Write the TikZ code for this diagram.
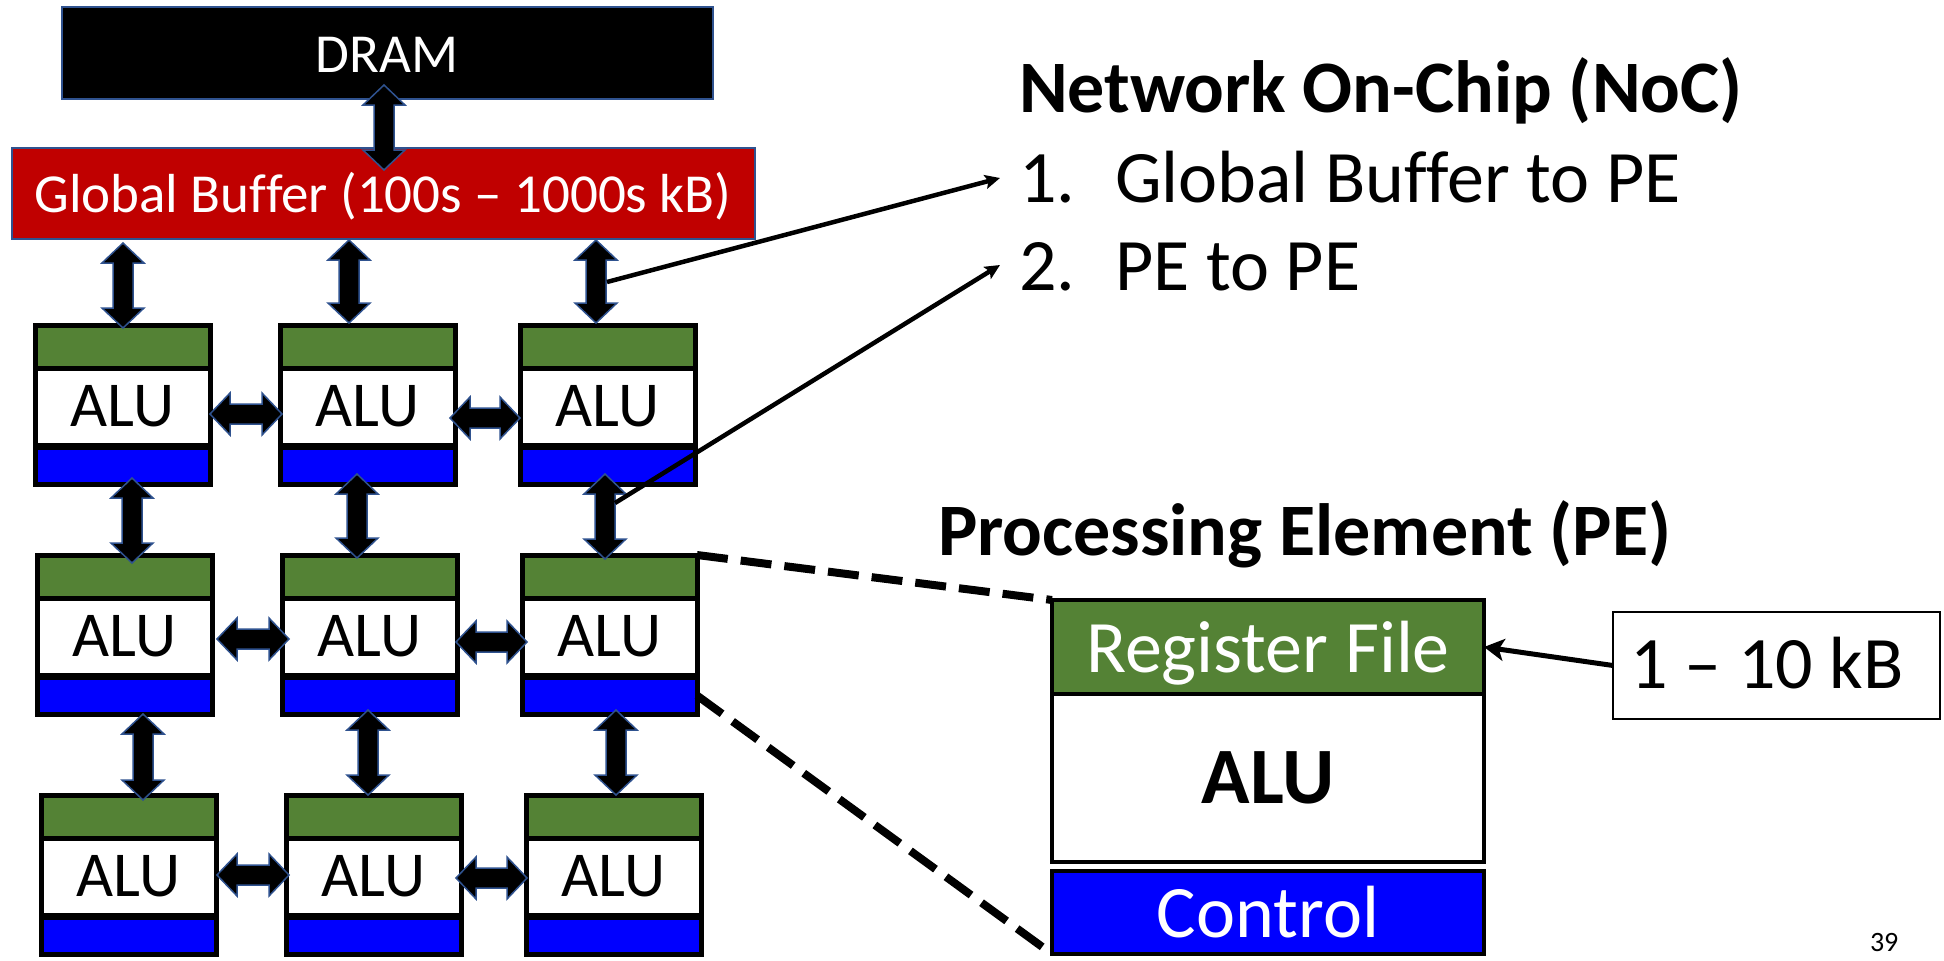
\documentclass[tikz,border=0pt]{standalone}
\usepackage{fontspec}
\setmainfont{Carlito}[Ligatures=NoCommon]
\usetikzlibrary{arrows.meta}
\definecolor{pegreen}{HTML}{548235}
\definecolor{gbred}{HTML}{C00000}
\definecolor{ctlblue}{HTML}{0000FF}
\definecolor{edgeblue}{HTML}{2F528F}
\newcommand\varr[3]{%
  \filldraw[blockarr] (#1-10,#2+20) -- (#1-21,#2+20) -- (#1,#2) -- (#1+21,#2+20) -- (#1+10,#2+20)
    -- (#1+10,#3-20) -- (#1+21,#3-20) -- (#1,#3) -- (#1-21,#3-20) -- (#1-10,#3-20) -- cycle;}
\newcommand\harr[3]{%
  \filldraw[blockarr] (#2,#1) -- (#2+20,#1-21) -- (#2+20,#1-10) -- (#3-20,#1-10) -- (#3-20,#1-21)
    -- (#3,#1) -- (#3-20,#1+21) -- (#3-20,#1+10) -- (#2+20,#1+10) -- (#2+20,#1+21) -- cycle;}
\newcommand\spe[3]{%
  \node[rfbox, line width=5pt, minimum width=175pt, minimum height=43pt] (#1rf) at (#2,#3) {};
  \node[alubox, line width=5pt, minimum width=175pt, minimum height=77pt, font=\fontsize{64}{72}\selectfont] (#1alu) at (#2,#3+43) {ALU};
  \node[ctlbox, line width=5pt, minimum width=175pt, minimum height=37pt] (#1ctl) at (#2,#3+122) {};}
\begin{document}
\begin{tikzpicture}[x=1pt,y=-1pt,
  box/.style={draw, line width=4.5pt, inner sep=0pt, outer sep=0pt, anchor=north west},
  rfbox/.style={box, fill=pegreen},
  alubox/.style={box, fill=white},
  ctlbox/.style={box, fill=ctlblue},
  blockarr/.style={fill=black, draw=edgeblue, line width=1.5pt, line join=miter},
  txt/.style={inner sep=0pt, outer sep=0pt, anchor=base},
  txtw/.style={inner sep=0pt, outer sep=0pt, anchor=base west},
  f74/.style={font=\fontsize{74}{88}\selectfont},
  f74b/.style={font=\fontsize{74}{88}\selectfont\bfseries},
  f55/.style={font=\fontsize{55}{66}\selectfont},
  dashline/.style={line width=8pt, dash pattern=on 31pt off 13pt},
  nocarrow/.style={line width=4.5pt, -{Stealth[length=15pt,width=14pt,inset=3pt]}},
  kbarrow/.style={line width=5pt, -{Stealth[length=20pt,width=22pt,inset=5pt]}}
]
\useasboundingbox (0,0) rectangle (1944,961);
\fill[white] (0,0) rectangle (1944,961);

% DRAM and global buffer
\node[box, line width=1.5pt, draw=edgeblue, fill=black, minimum width=651pt, minimum height=92pt] (dram) at (62,7) {};
\node[txt, f55, text=white] (dramtxt) at (387,72) {DRAM};
\node[box, line width=1.5pt, draw=edgeblue, fill=gbred, minimum width=743pt, minimum height=91pt] (gb) at (12,148) {};
\node[txt, f55, text=white] (gbtxt) at (383,212) {Global Buffer (100s -- 1000s kB)};

% PE array
\spe{pea}{35}{325}
\spe{peb}{280}{325}
\spe{pec}{520}{325}
\spe{ped}{37}{555}
\spe{pee}{282}{555}
\spe{pef}{522}{555}
\spe{peg}{41}{795}
\spe{peh}{286}{795}
\spe{pei}{526}{795}

% block arrows
\varr{384}{85}{170}
\varr{123}{243}{328}
\varr{349}{240}{323}
\varr{596}{240}{323}
\varr{132}{478}{563}
\varr{357}{474}{558}
\varr{605}{474}{559}
\varr{143}{714}{800}
\varr{368}{710}{795}
\varr{616}{710}{795}
\harr{414}{210}{282}
\harr{418}{450}{520}
\harr{639}{217}{289}
\harr{642}{456}{527}
\harr{875}{217}{289}
\harr{878}{456}{527}

% NoC text
\node[txtw, f74b] (noctitle) at (1019,112) {Network On-Chip (NoC)};
\node[txtw, f74] (num1) at (1019,202) {1.};
\node[txtw, f74] (item1) at (1115,202) {Global Buffer to PE};
\node[txtw, f74] (num2) at (1019,290) {2.};
\node[txtw, f74] (item2) at (1115,290) {PE to PE};
\coordinate (gbpe) at (607,282);
\coordinate (pepe) at (615,503);
\coordinate (tip1) at (1000,178);
\coordinate (tip2) at (1000,265);
\draw[nocarrow] (gbpe) -- (tip1);
\draw[nocarrow] (pepe) -- (tip2);

% Processing element detail
\node[txtw, f74b] (petitle) at (938,555) {Processing Element (PE)};
\node[rfbox, minimum width=432pt, minimum height=94pt] (bigrf) at (1052,600) {};
\node[alubox, minimum width=432pt, minimum height=168pt] (bigalu) at (1052,694) {};
\node[ctlbox, minimum width=432pt, minimum height=83pt] (bigctl) at (1052,871) {};
\node[txt, f74, text=white] (rftxt) at (1268,672) {Register File};
\node[txt, font=\fontsize{80}{96}\selectfont\bfseries] (alutxt) at (1268,803) {ALU};
\node[txt, f74, text=white] (ctltxt) at (1268,937) {Control};
\draw[dashline] (pefrf.north east) -- (bigrf.north west);
\draw[dashline] (pefctl.east) -- (bigctl.south west);

\node[box, line width=1.5pt, fill=white, minimum width=327pt, minimum height=107pt] (kb) at (1613,612) {};
\node[txt, f74] (kbtxt) at (1767,688) {1 -- 10 kB};
\draw[kbarrow] (kb.west) -- (bigrf.east);

\node[txtw, font=\fontsize{28}{34}\selectfont] (pagenum) at (1870,951) {39};
\end{tikzpicture}
\end{document}
